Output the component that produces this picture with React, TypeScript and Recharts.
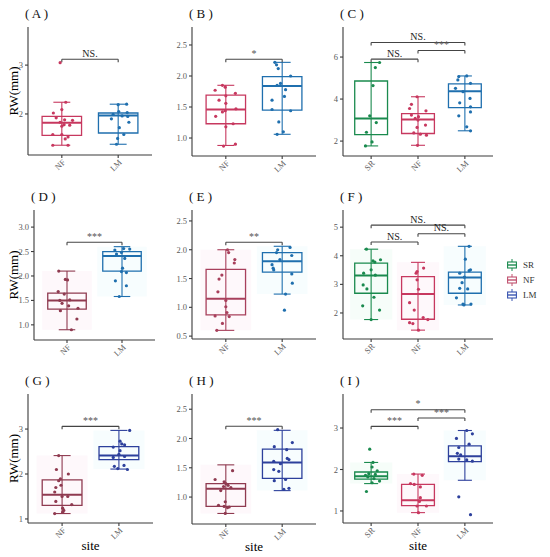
import React from "react";
import {
  ScatterChart,
  Scatter,
  XAxis,
  YAxis,
  ReferenceArea,
  ReferenceLine,
  ReferenceDot,
  Legend,
} from "recharts";

const SERIF = "'Liberation Serif', 'Times New Roman', Times, serif";

const CATS_2 = ["NF", "LM"];
const CATS_3 = ["SR", "NF", "LM"];

// box stats: [lower whisker, q1, median, q3, upper whisker]
const A_NF_BOX = [1.36, 1.56, 1.82, 1.95, 2.24];
const A_LM_BOX = [1.38, 1.61, 1.97, 2.02, 2.2];
const B_NF_BOX = [0.88, 1.23, 1.46, 1.69, 1.85];
const B_LM_BOX = [1.06, 1.45, 1.84, 1.99, 2.22];
const C_SR_BOX = [1.77, 2.31, 3.08, 4.86, 5.74];
const C_NF_BOX = [1.8, 2.36, 3.03, 3.31, 4.11];
const C_LM_BOX = [2.49, 3.59, 4.37, 4.72, 5.1];
const D_NF_BOX = [0.9, 1.32, 1.5, 1.65, 2.1];
const D_LM_BOX = [1.58, 2.1, 2.41, 2.5, 2.6];
const E_NF_BOX = [0.6, 0.87, 1.15, 1.66, 2.0];
const E_LM_BOX = [1.23, 1.61, 1.8, 1.95, 2.06];
const F_SR_BOX = [1.77, 2.69, 3.31, 3.74, 4.23];
const F_NF_BOX = [1.4, 1.78, 2.66, 3.27, 3.77];
const F_LM_BOX = [2.28, 2.69, 3.24, 3.43, 4.33];
const G_NF_BOX = [1.12, 1.3, 1.54, 1.87, 2.41];
const G_LM_BOX = [2.11, 2.32, 2.41, 2.61, 2.97];
const H_NF_BOX = [0.72, 0.84, 1.14, 1.23, 1.55];
const H_LM_BOX = [1.11, 1.32, 1.59, 1.82, 2.14];
const I_SR_BOX = [1.66, 1.77, 1.84, 1.94, 2.17];
const I_NF_BOX = [0.96, 1.13, 1.26, 1.64, 1.89];
const I_LM_BOX = [1.74, 2.19, 2.32, 2.57, 2.94];

// individual observations (RW, mm) and their jitter offsets from the category
const A_NF = [3.05, 2.24, 2.09, 2.02, 1.92, 1.88, 1.87, 1.83, 1.78, 1.77, 1.75, 1.58, 1.58, 1.53, 1.49, 1.36, 1.36];
const A_NF_JIT = [-0.03, 0.07, 0, -0.15, -0.1, 0.05, 0.19, -0.03, 0.04, 0.14, 0, -0.16, 0, 0.11, 0.06, -0.16, 0.11];
const A_LM = [2.19, 2.2, 2.05, 1.99, 2.03, 1.9, 1.83, 1.72, 1.58, 1.5, 1.38, 1.96, 1.95];
const A_LM_JIT = [0, 0.15, 0.01, -0.09, 0.16, -0.12, 0.19, 0.02, 0.1, -0.01, -0.03, 0.07, 0.17];

const B_NF = [1.85, 1.82, 1.77, 1.72, 1.68, 1.61, 1.56, 1.47, 1.42, 1.44, 1.35, 1.23, 1.18, 0.9, 0.87];
const B_NF_JIT = [-0.06, -0.01, -0.19, 0.17, 0, -0.12, 0, 0.18, -0.06, -0.01, -0.18, 0.13, 0, 0.17, -0.04];
const B_LM = [2.22, 2.18, 2.12, 2.0, 1.85, 1.88, 1.78, 1.61, 1.67, 1.44, 1.46, 1.26, 1.06, 1.1];
const B_LM_JIT = [-0.13, -0.1, -0.07, 0.15, -0.09, -0.03, 0.06, -0.18, 0.04, 0.15, -0.18, -0.06, -0.09, 0.02];

const C_SR = [5.74, 5.5, 4.64, 3.2, 2.88, 2.42, 1.96, 1.77];
const C_SR_JIT = [0.18, 0.09, 0.04, -0.03, 0.11, -0.1, 0.02, -0.12];
const C_NF = [4.11, 3.75, 3.55, 3.44, 3.24, 3.16, 3.08, 3.0, 2.76, 2.65, 2.39, 2.33, 2.28, 1.8];
const C_NF_JIT = [-0.02, -0.14, -0.18, 0.17, -0.14, 0.01, -0.06, 0, 0.16, -0.02, -0.09, 0.05, 0.18, -0.01];
const C_LM = [5.07, 5.1, 4.91, 4.75, 4.51, 4.35, 4.03, 3.82, 3.63, 3.39, 3.2, 2.68, 2.49];
const C_LM_JIT = [-0.13, 0.04, -0.15, 0.12, -0.2, -0.04, 0.11, -0.11, 0.12, 0.12, -0.13, 0.04, 0.12];

const D_NF = [2.1, 1.93, 1.92, 1.68, 1.63, 1.51, 1.5, 1.44, 1.39, 1.29, 1.34, 1.12, 0.9];
const D_NF_JIT = [-0.15, -0.03, 0.01, -0.16, -0.05, 0.05, -0.13, -0.09, 0.03, -0.12, 0.2, 0.18, 0.08];
const D_LM = [2.53, 2.56, 2.55, 2.48, 2.45, 2.36, 2.16, 2.07, 2.09, 1.9, 1.8, 1.58];
const D_LM_JIT = [-0.13, 0.03, 0.14, -0.01, -0.1, 0.05, 0.01, 0.08, -0.01, -0.12, 0.08, -0.05];

const E_NF = [2.0, 1.95, 1.83, 1.77, 1.56, 1.49, 1.27, 1.12, 1.01, 0.91, 0.85, 0.84, 0.72, 0.6];
const E_NF_JIT = [0.03, 0.05, 0.16, 0.15, -0.07, -0.12, -0.14, 0, 0, 0.02, -0.19, 0.06, -0.06, -0.16];
const E_LM = [2.0, 2.04, 1.95, 1.9, 1.83, 1.74, 1.68, 1.65, 1.58, 1.42, 1.23, 0.95];
const E_LM_JIT = [-0.08, 0.14, -0.1, 0.17, -0.04, -0.18, -0.16, -0.15, 0.17, 0.18, 0.06, 0.04];

const F_SR = [4.23, 3.82, 3.78, 3.86, 3.51, 3.39, 3.32, 2.98, 2.84, 2.55, 2.25, 2.1, 1.77];
const F_SR_JIT = [-0.1, 0.04, 0.08, 0.2, 0, -0.16, 0.09, -0.17, -0.09, 0.06, -0.18, 0.18, 0];
const F_NF = [3.45, 3.39, 3.57, 3.16, 2.83, 2.36, 2.1, 1.84, 1.77, 1.66, 1.63, 1.4];
const F_NF_JIT = [-0.02, -0.04, 0.12, -0.02, 0.01, -0.18, -0.08, 0.11, 0.21, -0.18, -0.11, 0.01];
const F_LM = [4.33, 3.88, 3.51, 3.48, 3.39, 3.25, 3.06, 2.86, 2.84, 2.53, 2.31, 2.31, 2.28];
const F_LM_JIT = [0.09, 0.01, 0.12, 0.09, -0.11, -0.01, -0.06, -0.11, 0.06, -0.18, -0.04, 0.13, -0.02];

const G_NF = [2.41, 2.1, 2.0, 1.89, 1.85, 1.75, 1.7, 1.6, 1.5, 1.5, 1.39, 1.32, 1.24, 1.19, 1.15, 1.12];
const G_NF_JIT = [-0.06, -0.1, 0.11, -0.03, -0.06, -0.02, -0.11, -0.13, 0, 0.1, -0.11, 0.17, 0.01, 0.03, 0.01, -0.13];
const G_LM = [2.97, 2.73, 2.67, 2.65, 2.6, 2.52, 2.44, 2.37, 2.39, 2.17, 2.19, 2.1, 2.12];
const G_LM_JIT = [0.19, 0.02, 0.05, 0.1, -0.1, 0.02, 0, -0.1, 0.1, -0.08, 0.09, 0.15, -0.02];

const H_NF = [1.45, 1.3, 1.26, 1.23, 1.2, 1.18, 1.16, 1.11, 0.92, 0.86, 0.84, 0.82, 0.83, 0.72];
const H_NF_JIT = [0.12, -0.19, -0.03, 0, 0.04, -0.04, 0.09, -0.09, -0.01, -0.13, -0.03, 0.03, 0.06, -0.01];
const H_LM = [2.15, 1.93, 1.86, 1.81, 1.66, 1.64, 1.61, 1.57, 1.47, 1.44, 1.3, 1.28, 1.13, 1.15];
const H_LM_JIT = [-0.08, 0.18, -0.14, 0.08, 0.09, 0.12, -0.15, -0.03, -0.15, -0.06, 0.06, -0.14, 0.03, 0.12];

const I_SR = [2.49, 2.17, 2.06, 1.97, 1.9, 1.88, 1.86, 1.82, 1.78, 1.72, 1.68, 1.47];
const I_SR_JIT = [-0.03, 0.04, 0.02, 0.13, -0.05, 0.09, -0.12, -0.07, 0.06, 0.18, 0.02, -0.1];
const I_NF = [1.89, 1.86, 1.66, 1.64, 1.58, 1.32, 1.23, 1.12, 1.12, 0.96];
const I_NF_JIT = [-0.09, 0.09, -0.16, -0.08, 0.05, 0.05, 0.03, -0.02, 0.18, 0.01];
const I_LM = [2.94, 2.86, 2.75, 2.61, 2.53, 2.39, 2.35, 2.23, 2.25, 2.2, 1.34, 0.91];
const I_LM_JIT = [0.04, 0.16, -0.18, 0.09, -0.13, -0.16, -0.09, 0.04, -0.13, 0.16, -0.13, 0.12];

// significance brackets: [from category, to category, height, label]
const A_SIG = [[1, 2, 3.12, "NS."]];
const B_SIG = [[1, 2, 2.27, "*"]];
const C_SIG = [[1, 2, 5.9, "NS."], [2, 3, 6.31, "***"], [1, 3, 6.69, "NS."]];
const D_SIG = [[1, 2, 2.69, "***"]];
const E_SIG = [[1, 2, 2.13, "**"]];
const F_SIG = [[1, 2, 4.48, "NS."], [2, 3, 4.77, "NS."], [1, 3, 5.07, "NS."]];
const G_SIG = [[1, 2, 3.06, "***"]];
const H_SIG = [[1, 2, 2.21, "***"]];
const I_SIG = [[1, 2, 3.04, "***"], [2, 3, 3.24, "***"], [1, 3, 3.44, "*"]];

const A_TICKS = [2, 3];
const B_TICKS = [1.0, 1.5, 2.0, 2.5];
const C_TICKS = [2, 4, 6];
const D_TICKS = [1.0, 1.5, 2.0, 2.5, 3.0];
const E_TICKS = [0.5, 1.0, 1.5, 2.0, 2.5];
const F_TICKS = [2, 3, 4, 5];
const G_TICKS = [1, 2, 3];
const H_TICKS = [1.0, 1.5, 2.0, 2.5];
const I_TICKS = [1, 2, 3];

const SR_C = "#1a8a4e";
const NF_C = "#c7385f";
const NF_MID = "#a8405c";
const NF_DK = "#8f3a50";
const LM_C = "#1f6fae";
const LM_DK = "#2d409c";

const HALO = { SR: "#bff0d6", NF: "#fbcde6", LM: "#c4f4f8" };

const LEGEND_ITEMS = [
  ["SR", SR_C],
  ["NF", "#c0506e"],
  ["LM", "#3a55b0"],
];

const grp = (cat, box, vals, jit, color) => ({ cat, box, vals, jit, color });

const PANELS = [
  { id: "A", rect: [28, 152, 27, 155], domain: [1.16, 3.78], ticks: A_TICKS, digits: 0, sig: A_SIG, yLabel: true,
    groups: [grp("NF", A_NF_BOX, A_NF, A_NF_JIT, NF_C), grp("LM", A_LM_BOX, A_LM, A_LM_JIT, LM_C)] },
  { id: "B", rect: [192, 316, 27, 156], domain: [0.71, 2.79], ticks: B_TICKS, digits: 1, sig: B_SIG,
    groups: [grp("NF", B_NF_BOX, B_NF, B_NF_JIT, NF_C), grp("LM", B_LM_BOX, B_LM, B_LM_JIT, LM_C)] },
  { id: "C", rect: [343, 493, 27, 156], domain: [1.29, 7.43], ticks: C_TICKS, digits: 0, sig: C_SIG,
    groups: [grp("SR", C_SR_BOX, C_SR, C_SR_JIT, SR_C), grp("NF", C_NF_BOX, C_NF, C_NF_JIT, NF_C), grp("LM", C_LM_BOX, C_LM, C_LM_JIT, LM_C)] },
  { id: "D", rect: [34, 155, 210, 340], domain: [0.69, 3.35], ticks: D_TICKS, digits: 1, sig: D_SIG, yLabel: true, halo: true,
    groups: [grp("NF", D_NF_BOX, D_NF, D_NF_JIT, NF_DK), grp("LM", D_LM_BOX, D_LM, D_LM_JIT, LM_C)] },
  { id: "E", rect: [192, 316, 210, 339], domain: [0.45, 2.69], ticks: E_TICKS, digits: 1, sig: E_SIG, halo: true,
    groups: [grp("NF", E_NF_BOX, E_NF, E_NF_JIT, NF_MID), grp("LM", E_LM_BOX, E_LM, E_LM_JIT, LM_C)] },
  { id: "F", rect: [343, 493, 210, 339], domain: [1.09, 5.6], ticks: F_TICKS, digits: 0, sig: F_SIG, halo: true, legend: true,
    groups: [grp("SR", F_SR_BOX, F_SR, F_SR_JIT, SR_C), grp("NF", F_NF_BOX, F_NF, F_NF_JIT, NF_C), grp("LM", F_LM_BOX, F_LM, F_LM_JIT, LM_C)] },
  { id: "G", rect: [28, 153, 394, 523], domain: [0.91, 3.78], ticks: G_TICKS, digits: 0, sig: G_SIG, yLabel: true, xLabel: true, halo: true,
    groups: [grp("NF", G_NF_BOX, G_NF, G_NF_JIT, NF_DK), grp("LM", G_LM_BOX, G_LM, G_LM_JIT, LM_DK)] },
  { id: "H", rect: [192, 316, 394, 524], domain: [0.54, 2.76], ticks: H_TICKS, digits: 1, sig: H_SIG, xLabel: true, halo: true,
    groups: [grp("NF", H_NF_BOX, H_NF, H_NF_JIT, NF_DK), grp("LM", H_LM_BOX, H_LM, H_LM_JIT, LM_DK)] },
  { id: "I", rect: [343, 493, 394, 523], domain: [0.71, 3.82], ticks: I_TICKS, digits: 0, sig: I_SIG, xLabel: true, halo: true,
    groups: [grp("SR", I_SR_BOX, I_SR, I_SR_JIT, SR_C), grp("NF", I_NF_BOX, I_NF, I_NF_JIT, NF_C), grp("LM", I_LM_BOX, I_LM, I_LM_JIT, LM_DK)] },
];

const AXIS = "#3a3a3a";
const TICK_TEXT = "#5a5a5a";

const XTick = ({ x, y, payload, cats }: any) => (
  <g transform={`translate(${x},${y})`}>
    <text x={1} y={0} dy={5} textAnchor="end" transform="rotate(-45)" fontSize={8.5} fill={TICK_TEXT} fontFamily={SERIF}>
      {cats[payload.value - 1]}
    </text>
  </g>
);

const LegendBox = () => (
  <div style={{ width: 45, boxSizing: "border-box", paddingLeft: 14, fontFamily: SERIF }}>
    {LEGEND_ITEMS.map(([name, color]) => (
      <div key={name} style={{ display: "flex", alignItems: "center", height: 15 }}>
        <svg width={10} height={12}>
          <line x1={5} y1={0} x2={5} y2={12} stroke={color} strokeWidth={1} />
          <rect x={0.6} y={3} width={8.8} height={6} fill="#fff" stroke={color} strokeWidth={1.1} />
          <line x1={0.6} y1={6} x2={9.4} y2={6} stroke={color} strokeWidth={1.4} />
        </svg>
        <span style={{ marginLeft: 6, fontSize: 9, color: "#333" }}>{name}</span>
      </div>
    ))}
  </div>
);

function Panel({ cfg }: any) {
  const [x0, x1, y0, y1] = cfg.rect;
  const pw = x1 - x0;
  const ph = y1 - y0;
  const n = cfg.groups.length;
  const cats = n === 3 ? CATS_3 : CATS_2;
  const legendW = cfg.legend ? 45 : 0;
  const W = pw + 45 + legendW;
  const H = ph + 60;
  const perPx = (cfg.domain[1] - cfg.domain[0]) / ph;
  const hook = 3 * perPx;

  return (
    <>
      <div
        style={{
          position: "absolute",
          left: x0 - 3,
          top: y0 - 20,
          fontSize: 13,
          lineHeight: "14px",
          fontFamily: SERIF,
          color: "#111",
          whiteSpace: "pre",
        }}
      >
        {`( ${cfg.id} )`}
      </div>
      <div style={{ position: "absolute", left: x0 - 40, top: y0 - 30 }}>
        <ScatterChart width={W} height={H} margin={{ top: 30, right: 5, bottom: 0, left: 0 }}>
          <XAxis
            type="number"
            dataKey="x"
            domain={[0.4, n + 0.6]}
            ticks={cats.map((_, i) => i + 1)}
            tick={<XTick cats={cats} />}
            tickSize={3}
            height={30}
            stroke={AXIS}
            strokeWidth={1.1}
            allowDataOverflow
            label={
              cfg.xLabel
                ? { value: "site", position: "insideBottom", offset: 3, fill: "#000", fontSize: 13, fontWeight: "normal", fontFamily: SERIF }
                : undefined
            }
          />
          <YAxis
            type="number"
            dataKey="y"
            domain={cfg.domain}
            ticks={cfg.ticks}
            tickSize={3}
            width={40}
            stroke={AXIS}
            strokeWidth={1.1}
            allowDataOverflow
            tickFormatter={(v) => v.toFixed(cfg.digits)}
            tick={{ fontSize: 8.5, fill: TICK_TEXT, fontFamily: SERIF }}
            label={
              cfg.yLabel
                ? { value: "RW(mm)", angle: -90, position: "center", dx: 33 - x0, fill: "#000", fontSize: 13, fontFamily: SERIF }
                : undefined
            }
          />
          {cfg.halo &&
            cfg.groups.map((g, i) => (
              <ReferenceArea
                key={`halo-${g.cat}`}
                x1={i + 1 - 0.45}
                x2={i + 1 + 0.45}
                y1={g.box[0]}
                y2={g.box[4]}
                fill={HALO[g.cat]}
                fillOpacity={0.14}
                stroke="none"
              />
            ))}
          {cfg.groups.map((g, i) => {
            const c = i + 1;
            const [lo, q1, med, q3, hi] = g.box;
            return (
              <React.Fragment key={`box-${g.cat}`}>
                <ReferenceArea x1={c - 0.35} x2={c + 0.35} y1={q1} y2={q3} fill="none" stroke={g.color} strokeWidth={1.3} />
                <ReferenceLine segment={[{ x: c, y: lo }, { x: c, y: hi }]} stroke={g.color} strokeWidth={1.1} />
                <ReferenceLine segment={[{ x: c - 0.15, y: lo }, { x: c + 0.15, y: lo }]} stroke={g.color} strokeWidth={1.1} />
                <ReferenceLine segment={[{ x: c - 0.15, y: hi }, { x: c + 0.15, y: hi }]} stroke={g.color} strokeWidth={1.1} />
                <ReferenceLine segment={[{ x: c - 0.35, y: med }, { x: c + 0.35, y: med }]} stroke={g.color} strokeWidth={2} />
              </React.Fragment>
            );
          })}
          {cfg.groups.map((g, i) => (
            <Scatter
              key={`pts-${g.cat}`}
              name={g.cat}
              data={g.vals.map((v, k) => ({ x: i + 1 + g.jit[k], y: v }))}
              isAnimationActive={false}
              shape={(p: any) => <circle cx={p.cx} cy={p.cy} r={1.6} fill={g.color} />}
            />
          ))}
          {cfg.sig.map(([a, b, y, label], k) => (
            <React.Fragment key={`sig-${k}`}>
              <ReferenceLine segment={[{ x: a, y }, { x: b, y }]} stroke="#444" strokeWidth={1.1} />
              <ReferenceLine segment={[{ x: a, y }, { x: a, y: y - hook }]} stroke="#444" strokeWidth={1.1} />
              <ReferenceLine segment={[{ x: b, y }, { x: b, y: y - hook }]} stroke="#444" strokeWidth={1.1} />
              <ReferenceDot
                x={(a + b) / 2}
                y={y}
                r={0}
                shape={(p: any) => (
                  <text
                    x={p.cx}
                    y={p.cy - 2.5}
                    textAnchor="middle"
                    fontSize={10}
                    fill={label === "NS." ? "#222" : "#555"}
                    fontFamily={SERIF}
                  >
                    {label}
                  </text>
                )}
              />
            </React.Fragment>
          ))}
          {cfg.legend && (
            <Legend
              layout="vertical"
              align="right"
              verticalAlign="top"
              wrapperStyle={{ top: 77 }}
              content={<LegendBox />}
            />
          )}
        </ScatterChart>
      </div>
    </>
  );
}

export default function App() {
  return (
    <div
      style={{
        position: "absolute",
        left: 0,
        top: 0,
        width: 550,
        height: 557,
        background: "#fff",
        overflow: "hidden",
        fontFamily: SERIF,
      }}
    >
      {PANELS.map((p) => (
        <Panel key={p.id} cfg={p} />
      ))}
    </div>
  );
}
